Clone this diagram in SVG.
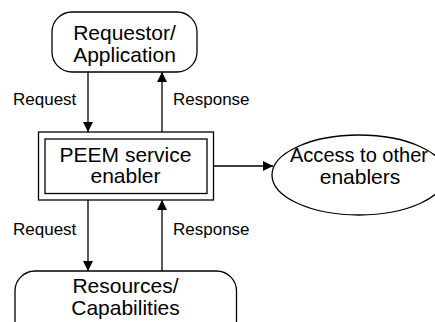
<svg xmlns="http://www.w3.org/2000/svg" width="435" height="322" viewBox="0 0 435 322">
<defs>
<marker id="ah" markerWidth="10" markerHeight="12" refX="10" refY="5" orient="auto" markerUnits="userSpaceOnUse" viewBox="0 0 10 10">
<path d="M0,0 L10,5 L0,10 Z" fill="#000"/>
</marker>
<style>
.s{fill:#fff;stroke:#000;stroke-width:1.3}
.t{font-family:"Liberation Sans",Arial,sans-serif;font-size:21px;fill:#000;text-anchor:middle}
.l{font-family:"Liberation Sans",Arial,sans-serif;font-size:17px;fill:#000}
.c{stroke:#000;stroke-width:1.3;fill:none;marker-end:url(#ah)}
</style>
</defs>
<rect width="435" height="322" fill="#fff"/>
<g id="connectors">
<line class="c" x1="88" y1="72" x2="88" y2="132"/>
<line class="c" x1="162" y1="132" x2="162" y2="72"/>
<line class="c" x1="88" y1="200" x2="88" y2="271"/>
<line class="c" x1="162" y1="271" x2="162" y2="200"/>
<line class="c" x1="213" y1="166" x2="273" y2="166"/>
<text class="l" x="13" y="105">Request</text>
<text class="l" x="173" y="105">Response</text>
<text class="l" x="13" y="235">Request</text>
<text class="l" x="173" y="235">Response</text>
</g>
<g id="requestor">
<rect class="s" x="52" y="12" width="145" height="60" rx="20"/>
<text class="t" x="124.5" y="39.5">Requestor/</text>
<text class="t" x="124.5" y="61.5">Application</text>
</g>
<g id="peem">
<rect class="s" x="38.5" y="132" width="175" height="68"/>
<rect class="s" x="45" y="139" width="162" height="54.5"/>
<text class="t" x="125.5" y="162">PEEM service</text>
<text class="t" x="125.5" y="183">enabler</text>
</g>
<g id="access">
<ellipse class="s" cx="359" cy="175" rx="87" ry="40"/>
<text class="t" x="359" y="162" textLength="138" lengthAdjust="spacingAndGlyphs">Access to other</text>
<text class="t" x="360" y="184">enablers</text>
</g>
<g id="resources">
<rect class="s" x="15" y="271" width="221.5" height="70" rx="20"/>
<text class="t" x="125.5" y="293">Resources/</text>
<text class="t" x="125.5" y="314.5">Capabilities</text>
</g>
</svg>
